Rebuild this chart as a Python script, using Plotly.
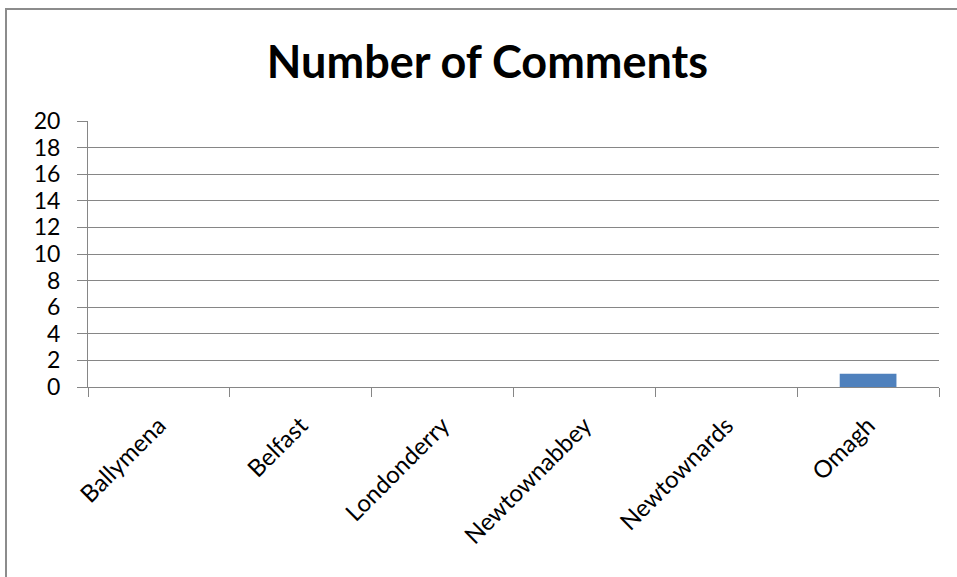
import plotly.graph_objects as go

categories = ["Ballymena", "Belfast", "Londonderry", "Newtownabbey", "Newtownards", "Omagh"]
comments = [0, 0, 0, 0, 0, 1]
y_ticks = list(range(0, 21, 2))

W, H = 957, 577
L, R, T, B = 88, 18, 121, 190
pw, ph = W - L - R, H - T - B

fig = go.Figure(go.Bar(x=categories, y=comments, marker=dict(color="#4f81bd", line=dict(width=0))))

font = "Lato, Carlito, Calibri, sans-serif"
fig.update_layout(
    width=W, height=H,
    margin=dict(l=L, r=R, t=T, b=B),
    paper_bgcolor="white", plot_bgcolor="white",
    bargap=0.6,
    showlegend=False,
    font=dict(family=font, size=22, color="black"),
    title=dict(text="<b>Number of Comments</b>", font=dict(family=font, size=45, color="black"),
               x=487.5 / W, xanchor="center", xref="container",
               y=1 - 62 / H, yanchor="middle", yref="container"),
)
fig.update_xaxes(
    type="category", showline=True, linecolor="#868686", linewidth=1,
    ticks="outside", tickson="boundaries", ticklen=9, tickcolor="#868686",
    tickangle=-45, showgrid=False, tickfont=dict(size=24), ticklabelstandoff=14,
)
fig.update_yaxes(
    range=[0, 20], tickvals=y_ticks, showline=True, linecolor="#868686", linewidth=1,
    showgrid=True, gridcolor="#868686", gridwidth=1,
    ticks="outside", ticklen=10, tickcolor="#868686", tickfont=dict(size=23),
    ticklabelstandoff=12, zeroline=False,
)
# outer chart border (left and top visible)
fig.add_shape(type="rect", xref="paper", yref="paper",
              x0=(6 - L) / pw, x1=2, y0=-2, y1=(H - B - 9) / ph,
              line=dict(color="#8c8c8c", width=2), layer="below")

fig.write_html("out.html")
